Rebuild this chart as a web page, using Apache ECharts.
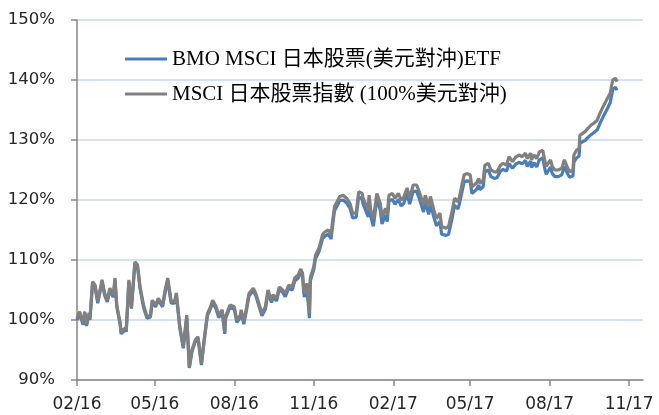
<!DOCTYPE html>
<html>
<head>
<meta charset="utf-8">
<script src="https://cdn.jsdelivr.net/npm/echarts@6/dist/echarts.min.js"></script>
<style>
  html, body { margin: 0; padding: 0; background: #fff; }
  #chart { width: 659px; height: 415px; }
</style>
</head>
<body>
<div id="chart"></div>
<script>
const SERIES_NAMES = ['BMO MSCI 日本股票(美元對沖)ETF', 'MSCI 日本股票指數 (100%美元對沖)'];
const TICK_MONTHS = ['02', '05', '08', '11'];
const AXIS_START = '2016-02-01';
const AXIS_END = '2017-11-17';

const dates = [
  '2016-02-01','2016-02-04','2016-02-08','2016-02-10','2016-02-12','2016-02-15','2016-02-16','2016-02-19','2016-02-22','2016-02-25',
  '2016-03-01','2016-03-04','2016-03-07','2016-03-10','2016-03-14','2016-03-16','2016-03-18','2016-03-22','2016-03-23','2016-03-28',
  '2016-03-29','2016-04-01','2016-04-04','2016-04-08','2016-04-11','2016-04-14','2016-04-18','2016-04-22','2016-04-26','2016-04-28',
  '2016-05-02','2016-05-05','2016-05-10','2016-05-13','2016-05-16','2016-05-20','2016-05-24','2016-05-26','2016-05-30','2016-06-03',
  '2016-06-07','2016-06-10','2016-06-13','2016-06-17','2016-06-20','2016-06-24','2016-06-28','2016-07-01','2016-07-04','2016-07-07',
  '2016-07-11','2016-07-14','2016-07-18','2016-07-21','2016-07-22','2016-07-27','2016-08-01','2016-08-04','2016-08-08','2016-08-09',
  '2016-08-12','2016-08-15','2016-08-18','2016-08-23','2016-08-26','2016-09-02','2016-09-06','2016-09-09','2016-09-13','2016-09-15',
  '2016-09-19','2016-09-22','2016-09-26','2016-09-29','2016-10-03','2016-10-07','2016-10-10','2016-10-14','2016-10-17','2016-10-19',
  '2016-10-20','2016-10-21','2016-10-24','2016-10-27','2016-10-28','2016-11-01','2016-11-03','2016-11-07','2016-11-09','2016-11-11',
  '2016-11-14','2016-11-18','2016-11-21','2016-11-23','2016-11-25','2016-11-28','2016-12-01','2016-12-05','2016-12-09','2016-12-13',
  '2016-12-16','2016-12-20','2016-12-23','2016-12-27','2016-12-28','2017-01-03','2017-01-04','2017-01-06','2017-01-09','2017-01-13',
  '2017-01-17','2017-01-19','2017-01-23','2017-01-25','2017-01-27','2017-01-31','2017-02-03','2017-02-07','2017-02-10','2017-02-13',
  '2017-02-17','2017-02-20','2017-02-24','2017-02-28','2017-03-03','2017-03-08','2017-03-10','2017-03-14','2017-03-16','2017-03-20',
  '2017-03-23','2017-03-27','2017-03-29','2017-04-03','2017-04-06','2017-04-10','2017-04-13','2017-04-17','2017-04-19','2017-04-21',
  '2017-04-24','2017-04-27','2017-05-01','2017-05-03','2017-05-08','2017-05-11','2017-05-12','2017-05-16','2017-05-18','2017-05-22',
  '2017-05-25','2017-05-29','2017-06-01','2017-06-05','2017-06-08','2017-06-12','2017-06-15','2017-06-19','2017-06-23','2017-06-27',
  '2017-06-30','2017-07-04','2017-07-06','2017-07-10','2017-07-11','2017-07-14','2017-07-17','2017-07-20','2017-07-24','2017-07-27',
  '2017-07-28','2017-08-02','2017-08-04','2017-08-07','2017-08-11','2017-08-15','2017-08-18','2017-08-21','2017-08-24','2017-08-28',
  '2017-08-29','2017-09-01','2017-09-04','2017-09-05','2017-09-08','2017-09-11','2017-09-14','2017-09-18','2017-09-21','2017-09-25',
  '2017-09-28','2017-10-02','2017-10-06','2017-10-10','2017-10-13','2017-10-16','2017-10-18'
];

// BMO ETF (USD hedged), % of start
const etfValues = [
  100.0,101.0,99.2,101.1,99.0,100.9,100.0,106.0,105.4,102.8,
  106.3,104.1,103.0,104.9,103.8,106.6,102.2,99.2,97.7,98.4,
  98.0,106.3,101.9,109.4,108.9,105.2,102.1,100.3,100.5,102.9,
  102.2,103.3,102.2,104.6,106.6,102.8,102.8,104.1,98.6,95.3,
  100.4,92.0,94.7,96.4,96.9,92.5,97.5,100.8,101.7,102.9,
  101.8,100.4,101.3,97.7,100.3,102.1,101.8,99.6,100.4,101.3,
  99.3,101.5,104.0,104.9,104.0,100.7,101.8,104.6,102.9,103.8,
  103.2,105.1,104.6,103.9,105.3,105.0,106.5,107.0,108.0,107.3,
  105.3,103.8,105.6,100.3,106.5,108.4,110.2,111.4,112.4,113.5,
  114.0,114.3,113.5,116.0,118.2,119.0,119.9,120.0,119.5,118.6,
  117.0,117.1,120.5,120.2,119.4,117.2,119.9,117.2,115.6,120.2,
  118.3,116.0,117.5,116.4,119.8,120.1,119.3,120.1,119.0,119.4,
  121.0,119.3,121.5,121.4,120.3,118.0,119.7,117.6,119.4,117.1,
  115.7,116.4,114.3,114.1,114.3,116.9,119.1,118.5,119.7,121.0,
  123.0,123.2,123.1,121.1,121.7,122.5,121.7,122.2,124.7,125.0,
  123.9,123.6,123.7,124.8,125.1,124.8,126.1,125.3,126.0,126.3,
  126.0,126.6,125.6,126.5,125.4,126.2,125.5,126.7,127.0,124.8,
  124.3,125.5,124.4,123.9,123.9,124.2,125.6,124.6,123.8,124.0,
  126.3,127.0,127.3,129.4,129.7,129.9,130.4,130.9,131.2,131.7,
  132.7,133.9,135.0,136.2,138.4,138.8,138.3
];

// MSCI Japan 100% USD hedged index, % of start
const indexValues = [
  100.3,101.4,99.5,101.4,99.3,101.2,100.3,106.4,105.8,103.1,
  106.7,104.5,103.3,105.3,104.2,107.0,102.5,99.5,98.0,98.7,
  98.3,106.7,102.2,109.7,109.2,105.5,102.5,100.6,100.8,103.3,
  102.5,103.6,102.5,105.0,107.0,103.1,103.1,104.5,98.9,95.6,
  100.8,92.2,95.0,96.7,97.2,92.8,97.8,101.1,102.0,103.3,
  102.2,100.8,101.7,98.0,100.6,102.5,102.2,100.0,100.8,101.7,
  99.7,101.9,104.4,105.3,104.4,101.1,102.2,105.0,103.3,104.2,
  103.6,105.5,105.0,104.4,105.8,105.5,107.0,107.5,108.5,107.8,
  105.8,104.4,106.1,101.1,107.0,108.9,110.8,112.0,113.0,114.2,
  114.7,115.0,114.2,116.7,118.9,119.7,120.6,120.8,120.3,119.4,
  117.8,117.8,121.4,121.1,120.3,118.3,120.8,118.3,116.9,121.1,
  119.4,117.2,118.6,117.5,120.8,121.1,120.3,121.1,120.0,120.4,
  122.0,120.3,122.5,122.5,121.4,119.2,120.8,118.9,120.6,118.3,
  116.9,117.8,115.6,115.3,115.6,118.1,120.3,119.7,120.8,122.2,
  124.2,124.4,124.2,122.2,122.8,123.6,122.8,123.3,125.8,126.1,
  125.0,124.7,124.7,125.8,126.1,125.8,127.2,126.4,127.2,127.5,
  127.2,127.8,126.9,127.8,126.7,127.5,126.9,128.0,128.3,126.1,
  125.6,126.7,125.6,125.0,125.0,125.3,126.7,125.6,124.7,125.0,
  127.5,128.3,128.6,130.8,131.1,131.4,131.9,132.5,132.8,133.3,
  134.4,135.6,136.7,137.8,140.0,140.3,139.7
];

function dayList(start, end) {
  const out = [];
  const d = new Date(start + 'T00:00:00Z');
  const stop = new Date(end + 'T00:00:00Z');
  while (d <= stop) {
    out.push(d.toISOString().slice(0, 10));
    d.setUTCDate(d.getUTCDate() + 1);
  }
  return out;
}

const days = dayList(AXIS_START, AXIS_END);
const isTick = (i, v) => v.slice(8) === '01' && TICK_MONTHS.includes(v.slice(5, 7));

const chart = echarts.init(document.getElementById('chart'), null, { renderer: 'canvas' });
const axisFont = '"DejaVu Sans", sans-serif';

chart.setOption({
  animation: false,
  grid: { left: 77, right: 16, top: 20, bottom: 35, containLabel: false },
  legend: {
    orient: 'vertical',
    left: 120,
    top: 42,
    itemGap: 11,
    itemWidth: 42,
    itemHeight: 3,
    icon: 'rect',
    data: SERIES_NAMES,
    textStyle: {
      fontFamily: '"Liberation Serif", "Noto Sans CJK TC", serif',
      fontSize: 21,
      lineHeight: 24,
      color: '#000'
    }
  },
  xAxis: {
    type: 'category',
    data: days,
    boundaryGap: false,
    axisLine: { lineStyle: { color: '#868686', width: 1.5 } },
    axisTick: { show: true, interval: isTick, length: 6, lineStyle: { color: '#868686', width: 1.5 } },
    axisLabel: {
      interval: isTick,
      hideOverlap: false,
      margin: 16,
      fontFamily: axisFont,
      fontSize: 17,
      color: '#262626',
      formatter: v => v.slice(5, 7) + '/' + v.slice(2, 4)
    },
    splitLine: { show: false }
  },
  yAxis: {
    type: 'value',
    min: 90,
    max: 150,
    interval: 10,
    axisLine: { show: true, lineStyle: { color: '#868686', width: 1.5 } },
    axisTick: { show: true, length: 6, lineStyle: { color: '#868686', width: 1.5 } },
    axisLabel: {
      margin: 22,
      fontFamily: axisFont,
      fontSize: 16.5,
      color: '#262626',
      formatter: '{value}%'
    },
    splitLine: { lineStyle: { color: '#c6d8ef', width: 1.5 } }
  },
  series: [
    {
      name: SERIES_NAMES[0],
      type: 'line',
      data: dates.map((d, i) => [d, etfValues[i]]),
      showSymbol: false,
      lineStyle: { color: '#4a7ebb', width: 3.2 },
      itemStyle: { color: '#4a7ebb' }
    },
    {
      name: SERIES_NAMES[1],
      type: 'line',
      data: dates.map((d, i) => [d, indexValues[i]]),
      showSymbol: false,
      lineStyle: { color: '#808080', width: 3.2 },
      itemStyle: { color: '#808080' }
    }
  ]
});
</script>
</body>
</html>
